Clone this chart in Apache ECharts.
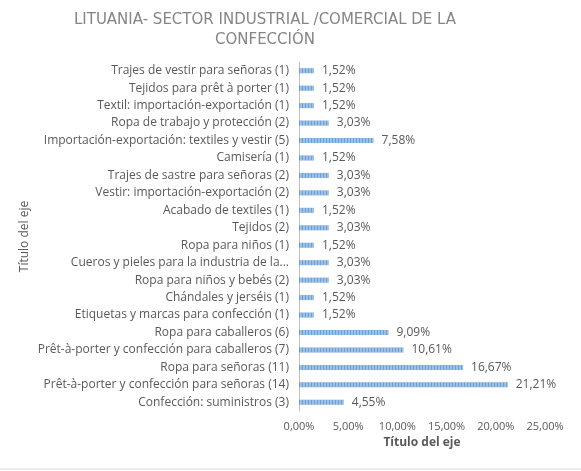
<!DOCTYPE html>
<html>
<head>
<meta charset="utf-8">
<script src="https://cdn.jsdelivr.net/npm/echarts@6/dist/echarts.min.js"></script>
<style>
  html, body { margin: 0; padding: 0; background: #fff; }
  #chart { width: 581px; height: 471px; }
</style>
</head>
<body>
<div id="chart"></div>
<script>
// categories listed bottom to top, as the category axis draws them
const categories = [
  'Confección: suministros (3)',
  'Prêt-à-porter y confección para señoras (14)',
  'Ropa para señoras (11)',
  'Prêt-à-porter y confección para caballeros (7)',
  'Ropa para caballeros (6)',
  'Etiquetas y marcas para confección (1)',
  'Chándales y jerséis (1)',
  'Ropa para niños y bebés (2)',
  'Cueros y pieles para la industria de la...',
  'Ropa para niños (1)',
  'Tejidos (2)',
  'Acabado de textiles (1)',
  'Vestir: importación-exportación (2)',
  'Trajes de sastre para señoras (2)',
  'Camisería (1)',
  'Importación-exportación: textiles y vestir (5)',
  'Ropa de trabajo y protección (2)',
  'Textil: importación-exportación (1)',
  'Tejidos para prêt à porter (1)',
  'Trajes de vestir para señoras (1)'
]
const shares = [
  4.55, 21.21, 16.67, 10.61, 9.09, 1.52, 1.52, 3.03, 3.03, 1.52,
  3.03, 1.52, 3.03, 3.03, 1.52, 7.58, 3.03, 1.52, 1.52, 1.52
]
const titleText = 'LITUANIA- SECTOR INDUSTRIAL /COMERCIAL DE LA\nCONFECCIÓN'
const axisTitle = 'Título del eje'

const fmt = v => v.toFixed(2).replace('.', ',') + '%'

const chart = echarts.init(document.getElementById('chart'))
const option = {
  backgroundColor: '#fff',
  textStyle: { fontFamily: 'Open Sans, Noto Sans, sans-serif' },
  title: {
    text: titleText,
    left: 260,
    textAlign: 'center',
    top: 5,
    textStyle: {
      color: '#858585',
      fontSize: 15,
      fontWeight: 'normal',
      lineHeight: 20,
      fontFamily: 'DejaVu Sans, sans-serif'
    }
  },
  grid: {
    left: 299,
    right: 36,
    top: 62,
    bottom: 60
  },
  xAxis: {
    type: 'value',
    min: 0,
    max: 25,
    interval: 5,
    name: axisTitle,
    nameLocation: 'middle',
    nameGap: 25,
    nameTextStyle: { color: '#595959', fontSize: 12, fontWeight: 'bold' },
    axisLine: { show: false },
    axisTick: { show: false },
    splitLine: { show: false },
    axisLabel: {
      color: '#595959',
      fontSize: 11,
      margin: 10,
      formatter: fmt
    }
  },
  yAxis: {
    type: 'category',
    data: categories,
    name: axisTitle,
    nameLocation: 'middle',
    nameGap: 268,
    nameRotate: 90,
    nameTextStyle: { color: '#595959', fontSize: 12 },
    axisLine: { show: true, lineStyle: { color: '#bfbfbf', width: 1 } },
    axisTick: { show: false },
    axisLabel: { color: '#595959', fontSize: 12, margin: 10 }
  },
  series: [{
    type: 'bar',
    data: shares,
    barWidth: 5,
    itemStyle: {
      color: '#6a9fd8',
      decal: {
        symbol: 'rect',
        dashArrayX: [[2, 1]],
        dashArrayY: [10, 0],
        color: 'rgba(255,255,255,0.35)',
        rotation: 0
      }
    },
    label: {
      show: true,
      position: 'right',
      distance: 8,
      color: '#595959',
      fontSize: 12,
      formatter: p => fmt(p.value)
    }
  }],
  graphic: [{
    type: 'line',
    shape: { x1: 0, y1: 469, x2: 581, y2: 469 },
    style: { stroke: '#d9d9d9', lineWidth: 1 }
  }]
}
chart.setOption(option)
</script>
</body>
</html>
